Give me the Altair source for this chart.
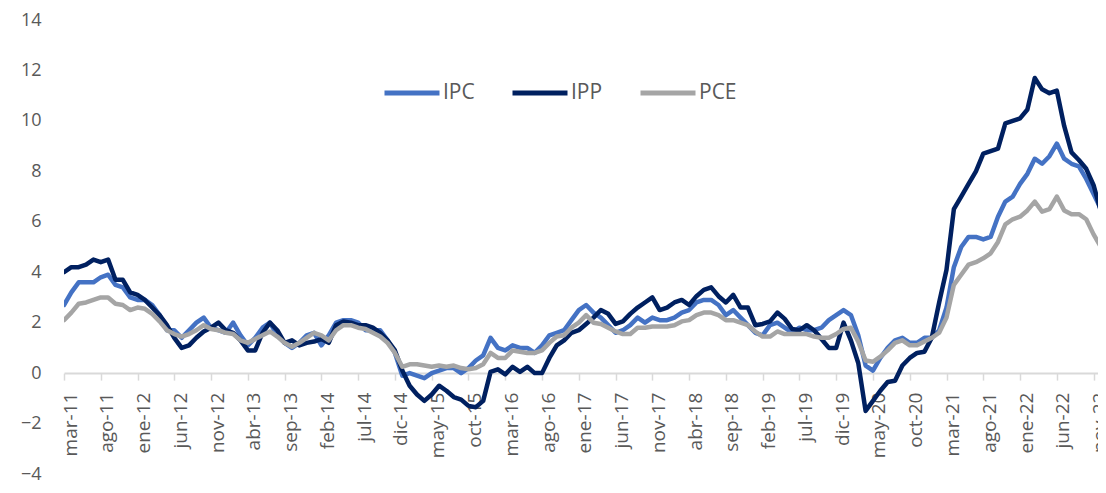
import altair as alt
import pandas as pd

meses = ["ene", "feb", "mar", "abr", "may", "jun", "jul", "ago", "sep", "oct", "nov", "dic"]
# monthly periods from mar-11 to dic-22
periodos = [f"{meses[(m + 2) % 12]}-{11 + (m + 2) // 12}" for m in range(142)]

ipc = [2.7, 3.2, 3.6, 3.6, 3.6, 3.8, 3.9, 3.5, 3.4, 3.0,
       2.9, 2.9, 2.7, 2.3, 1.7, 1.7, 1.4, 1.7, 2.0, 2.2, 1.8, 1.7,
       1.6, 2.0, 1.5, 1.1, 1.4, 1.8, 2.0, 1.5, 1.2, 1.0, 1.2, 1.5,
       1.6, 1.1, 1.5, 2.0, 2.1, 2.1, 2.0, 1.7, 1.7, 1.7, 1.3, 0.8,
       -0.1, 0.0, -0.1, -0.2, 0.0, 0.1, 0.2, 0.2, 0.0, 0.2, 0.5, 0.7,
       1.4, 1.0, 0.9, 1.1, 1.0, 1.0, 0.8, 1.1, 1.5, 1.6, 1.7, 2.1,
       2.5, 2.7, 2.4, 2.2, 1.9, 1.6, 1.7, 1.9, 2.2, 2.0, 2.2, 2.1,
       2.1, 2.2, 2.4, 2.5, 2.8, 2.9, 2.9, 2.7, 2.3, 2.5, 2.2, 1.9,
       1.6, 1.5, 1.9, 2.0, 1.8, 1.6, 1.8, 1.7, 1.7, 1.8, 2.1, 2.3,
       2.5, 2.3, 1.5, 0.3, 0.1, 0.6, 1.0, 1.3, 1.4, 1.2, 1.2, 1.4,
       1.4, 1.7, 2.6, 4.2, 5.0, 5.4, 5.4, 5.3, 5.4, 6.2, 6.8, 7.0,
       7.5, 7.9, 8.5, 8.3, 8.6, 9.1, 8.5, 8.3, 8.2, 7.7, 7.1, 6.5]

ipp = [4.0, 4.2, 4.2, 4.3, 4.5, 4.4, 4.5, 3.7, 3.7, 3.2,
       3.1, 2.9, 2.6, 2.3, 1.9, 1.4, 1.0, 1.1, 1.4, 1.65, 1.8, 2.0,
       1.7, 1.6, 1.3, 0.9, 0.9, 1.6, 2.0, 1.7, 1.2, 1.3, 1.1, 1.2,
       1.25, 1.35, 1.2, 1.9, 2.05, 2.0, 1.9, 1.9, 1.8, 1.6, 1.3, 0.9,
       0.1, -0.5, -0.85, -1.1, -0.85, -0.5, -0.7, -0.95, -1.05, -1.3, -1.35, -1.1,
       0.05, 0.15, -0.05, 0.25, 0.05, 0.25, 0.0, 0.0, 0.6, 1.1, 1.3, 1.6,
       1.7, 1.95, 2.2, 2.5, 2.35, 1.95, 2.05, 2.35, 2.6, 2.8, 3.0, 2.5,
       2.6, 2.8, 2.9, 2.7, 3.05, 3.3, 3.4, 3.05, 2.8, 3.1, 2.6, 2.6,
       1.9, 1.95, 2.05, 2.4, 2.15, 1.75, 1.7, 1.9, 1.7, 1.35, 1.0, 1.0,
       2.0, 1.3, 0.4, -1.5, -1.1, -0.7, -0.35, -0.3, 0.3, 0.6, 0.8, 0.85,
       1.4, 2.8, 4.1, 6.5, 7.0, 7.5, 8.0, 8.7, 8.8, 8.9, 9.9, 10.0,
       10.1, 10.45, 11.7, 11.25, 11.1, 11.2, 9.8, 8.75, 8.45, 8.1, 7.45, 6.4]

pce = [2.1, 2.4, 2.75, 2.8, 2.9, 3.0, 3.0, 2.75, 2.7, 2.5,
       2.6, 2.55, 2.35, 2.05, 1.7, 1.55, 1.45, 1.55, 1.7, 1.9, 1.75, 1.7,
       1.6, 1.55, 1.3, 1.2, 1.35, 1.5, 1.65, 1.45, 1.2, 1.05, 1.2, 1.4,
       1.6, 1.5, 1.3, 1.7, 1.9, 1.9, 1.8, 1.75, 1.6, 1.45, 1.2, 0.8,
       0.25, 0.35, 0.35, 0.3, 0.25, 0.3, 0.25, 0.3, 0.2, 0.15, 0.2, 0.35,
       0.8, 0.6, 0.6, 0.9, 0.85, 0.8, 0.8, 0.9, 1.2, 1.45, 1.5, 1.8,
       2.0, 2.3, 2.0, 1.95, 1.8, 1.65, 1.55, 1.55, 1.8, 1.8, 1.85, 1.85,
       1.85, 1.9, 2.05, 2.1, 2.3, 2.4, 2.4, 2.3, 2.1, 2.1, 2.0, 1.9,
       1.65, 1.45, 1.45, 1.65, 1.55, 1.55, 1.55, 1.55, 1.45, 1.4, 1.4, 1.55,
       1.75, 1.8, 1.25, 0.5, 0.45, 0.65, 0.9, 1.2, 1.3, 1.1, 1.1, 1.25,
       1.4, 1.6, 2.2, 3.5, 3.9, 4.3, 4.4, 4.55, 4.75, 5.2, 5.9, 6.1,
       6.2, 6.45, 6.8, 6.4, 6.5, 7.0, 6.45, 6.3, 6.3, 6.1, 5.5, 5.0]

series = ["IPC", "IPP", "PCE"]
colores = ["#4472C4", "#002060", "#A5A5A5"]
tick_idx = list(range(0, 141, 5))
y_ticks = list(range(-4, 15, 2))

rows = []
for name, vals in zip(series, [ipc, ipp, pce]):
    for i, v in enumerate(vals):
        rows.append({"t": i, "serie": name, "valor": v, "periodo": periodos[i]})
df = pd.DataFrame(rows)

W, H = 1034, 454
YMIN, YMAX = -4, 14
zero_offset = -H * (0 - YMIN) / (YMAX - YMIN)

label_expr = "[" + ",".join(f"'{p}'" for p in periodos) + "][datum.value]"
FONT = "Open Sans"

chart = alt.Chart(df).mark_line(
    strokeWidth=4.5, clip=True, strokeJoin="round", strokeCap="round"
).encode(
    x=alt.X("t:Q",
            scale=alt.Scale(domain=[0, 140.6], nice=False, zero=False),
            axis=alt.Axis(title=None, values=tick_idx, labelExpr=label_expr,
                          labelAngle=-90, labelAlign="right", labelBaseline="middle",
                          labelOffset=6, labelPadding=12, tickSize=7,
                          tickColor="#D9D9D9", tickWidth=1.5,
                          domainColor="#D9D9D9", domainWidth=2,
                          labelFontSize=19, labelColor="#595959", labelFont=FONT,
                          grid=False, offset=zero_offset, labelOverlap=False)),
    y=alt.Y("valor:Q",
            scale=alt.Scale(domain=[YMIN, YMAX], nice=False),
            axis=alt.Axis(title=None, values=y_ticks, domain=False, ticks=False,
                          tickSize=0, labelPadding=23, grid=False,
                          labelFontSize=18, labelColor="#595959", labelFont=FONT)),
    color=alt.Color("serie:N",
                    scale=alt.Scale(domain=series, range=colores),
                    legend=alt.Legend(title=None, orient="none", legendX=318, legendY=43,
                                      direction="horizontal", symbolType="stroke",
                                      symbolSize=3025, symbolStrokeWidth=5,
                                      labelFontSize=21, labelColor="#595959",
                                      labelFont=FONT, columnPadding=27, labelOffset=1)),
    order=alt.Order("t:Q"),
).properties(
    width=W, height=H,
    autosize=alt.AutoSizeParams(type="none"),
    padding={"left": 56, "top": 12, "right": 0, "bottom": 11},
).configure(background="white").configure_view(stroke=None)

chart.save("out.html", embed_options={"renderer": "svg", "actions": False})
